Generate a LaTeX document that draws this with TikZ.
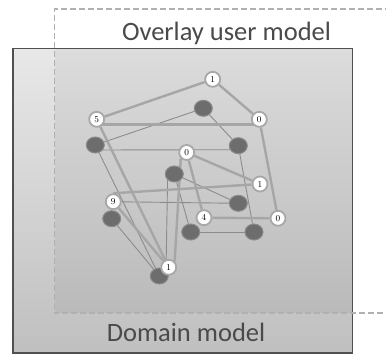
\documentclass[tikz,border=0pt]{standalone}
\usepackage{fontspec}
\newfontfamily\labelfont{Carlito}
\usetikzlibrary{shapes.geometric}
\pgfdeclarelayer{boxlayer}
\pgfdeclarelayer{edgelayer}
\pgfsetlayers{boxlayer,edgelayer,main}
\definecolor{boxborder}{HTML}{505050}
\definecolor{dashgray}{HTML}{B0B0B0}
\definecolor{ringgray}{HTML}{A8A8A8}
\definecolor{darknode}{HTML}{6D6D6D}
\definecolor{darkring}{HTML}{8A8A8A}
\definecolor{thickedge}{HTML}{A6A6A6}
\definecolor{thinedge}{HTML}{8C8C8C}
\definecolor{labelgray}{HTML}{4A4A4A}
\tikzset{
  ov/.style={circle, draw=ringgray, line width=1.8pt, fill=white, inner sep=0pt,
    minimum size=15pt, font=\fontsize{9}{9}\selectfont},
  dm/.style={ellipse, fill=darknode, draw=darkring, line width=1pt, inner sep=0pt,
    minimum width=18pt, minimum height=16pt},
  ovedge/.style={draw=thickedge, line width=2.4pt},
  dmedge/.style={draw=thinedge, line width=0.9pt},
  caption/.style={font=\labelfont\fontsize{26.5}{26.5}\selectfont, text=labelgray, anchor=base, inner sep=0pt}
}
\begin{document}
\begin{tikzpicture}[x=1pt,y=-1pt]
\useasboundingbox (0,0) rectangle (386,354);
\begin{pgfonlayer}{boxlayer}
% domain box
\shade[top color=black!9, bottom color=black!25] (13,48.5) rectangle (352.5,353);
\begin{scope}
  \clip (13,48.5) rectangle (352.5,353);
  \fill[black, opacity=0.05] (54.5,9) rectangle (400,313);
\end{scope}
\draw[boxborder, line width=1.6pt] (13,48.5) rectangle (352.5,353);
% overlay box
\draw[dashgray, line width=1.3pt, dash pattern=on 6pt off 3pt] (400,9) -- (54.5,9) -- (54.5,313) -- (400,313);
\end{pgfonlayer}
% captions
\node[caption] (ovlabel) at (226.5,40.7) {Overlay user model};
\node[caption] (dmlabel) at (186,341.7) {Domain model};
% dark (domain) nodes
\node[dm] (D1) at (203.3,108.3) {};
\node[dm] (D2) at (95.3,145) {};
\node[dm] (D3) at (238.3,145.7) {};
\node[dm] (D4) at (174.3,174) {};
\node[dm] (D5) at (238.3,203.3) {};
\node[dm] (D6) at (111.7,218.7) {};
\node[dm] (D7) at (190.7,232) {};
\node[dm] (D8) at (254,232) {};
\node[dm] (D9) at (159.3,276) {};
% overlay nodes
\node[ov] (T1) at (212.7,79.3) {1};
\node[ov] (T5) at (96.7,119.3) {5};
\node[ov] (T0a) at (259.3,119.3) {0};
\node[ov] (T0b) at (186.7,152.5) {0};
\node[ov] (T1b) at (260,184) {1};
\node[ov] (T9) at (113.3,201.7) {9};
\node[ov] (T4) at (204,217.7) {4};
\node[ov] (T0c) at (278,218.3) {0};
\node[ov] (T1c) at (168.7,267.3) {1};
\begin{pgfonlayer}{edgelayer}
% domain edges
\draw[dmedge] (D1) -- (D2);
\draw[dmedge] (D1) -- (D3);
\draw[dmedge] ([yshift=-5pt]D2.center) -- ([yshift=-4pt]D3.center);
\draw[dmedge] (D3) -- (D8);
\draw[dmedge] (D2) -- (D9);
\draw[dmedge] (D6) -- (D9);
\draw[dmedge] (D4) -- (D5);
\draw[dmedge] (D4.south west) -- (D9.north east);
\draw[dmedge] (D4) -- (D7);
\draw[dmedge] (D7) -- (D8);
\draw[dmedge] (T9) -- (D5);
% overlay edges
\draw[ovedge] (T1) -- (T5);
\draw[ovedge] (T1) -- (T0a);
\draw[ovedge] ([yshift=-5pt]T5.center) -- ([yshift=-5pt]T0a.center);
\draw[ovedge] (T5) -- (T1c);
\draw[ovedge] (T0a) -- (T0c);
\draw[ovedge] (T0b) -- (T1b);
\draw[ovedge] (T0b) -- (T4);
\draw[ovedge] (T0b.south west) -- (T1c.north east);
\draw[ovedge] (T1b) -- (T9.north);
\draw[ovedge] (T9) -- (T1c);
\draw[ovedge] (T4) -- (T0c);
\end{pgfonlayer}
\end{tikzpicture}
\end{document}
